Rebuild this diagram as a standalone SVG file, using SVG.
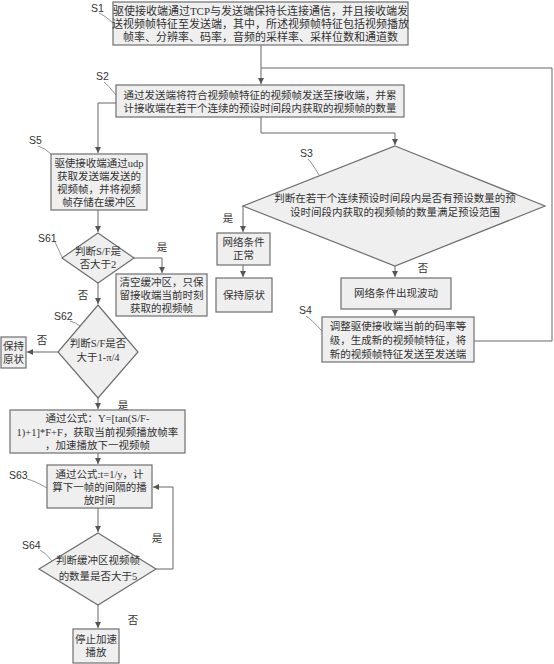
<svg xmlns="http://www.w3.org/2000/svg" width="554" height="664" viewBox="0 0 554 664">
<defs>
<marker id="ah" markerUnits="userSpaceOnUse" markerWidth="8" markerHeight="8" refX="6" refY="3" orient="auto">
<path d="M0,0 L6,3 L0,6 z" fill="#555"/>
</marker>
<style>
.box{fill:#efefef;stroke:#6e6e6e;stroke-width:1.2}
.t{font-family:"Liberation Serif","Noto Sans CJK SC",serif;font-size:10.5px;fill:#333;text-anchor:middle}
.lbl{font-family:"Liberation Sans",sans-serif;font-size:10.5px;fill:#333}
.c{fill:none;stroke:#666;stroke-width:1}
.a{marker-end:url(#ah)}
.ld{fill:none;stroke:#777;stroke-width:0.8}
</style>
</defs>
<rect width="554" height="664" fill="#fff"/>

<g id="connectors">
<path class="c a" d="M261,45 V84"/>
<path class="c" d="M474,341 H552 V68 H261"/>
<path class="c a" d="M261,117 V133 H395 V145"/>
<path class="c a" d="M116,103 H98 V153"/>
<path class="c a" d="M243,206 V232"/>
<path class="c a" d="M243,265 V277"/>
<path class="c a" d="M395,266 V277"/>
<path class="c a" d="M395,309 V316"/>
<path class="c a" d="M98,210 V232"/>
<path class="c a" d="M134,258 H162 V273"/>
<path class="c a" d="M98,283 V304"/>
<path class="c a" d="M58,352 H27"/>
<path class="c a" d="M98,398 V409"/>
<path class="c a" d="M98,453 V464"/>
<path class="c a" d="M98,508 V532"/>
<path class="c a" d="M156,569 H173 V487 H153"/>
<path class="c a" d="M98,605 V628"/>
<text class="t" x="228" y="222">是</text>
<text class="t" x="423" y="272">否</text>
<text class="t" x="162" y="251">是</text>
<text class="t" x="83" y="299">否</text>
<text class="t" x="42" y="344">否</text>
<text class="t" x="123" y="409">是</text>
<text class="t" x="157" y="542">是</text>
<text class="t" x="133" y="624">否</text>
</g>

<g id="labels">
<text class="lbl" x="91" y="12">S1</text>
<path class="ld" d="M99,13 Q104,15 113,23"/>
<text class="lbl" x="96" y="80">S2</text>
<path class="ld" d="M104,82 Q108,85 116,95"/>
<text class="lbl" x="300" y="157">S3</text>
<path class="ld" d="M308,159 Q312,163 319,175"/>
<text class="lbl" x="299" y="314">S4</text>
<path class="ld" d="M306,316 Q311,319 322,331"/>
<text class="lbl" x="29" y="144">S5</text>
<path class="ld" d="M38,146 Q45,148 51,154"/>
<text class="lbl" x="38" y="242">S61</text>
<path class="ld" d="M55,242 Q58,248 62,257"/>
<text class="lbl" x="54" y="320">S62</text>
<path class="ld" d="M70,321 Q75,322 80,326"/>
<text class="lbl" x="9" y="479">S63</text>
<path class="ld" d="M27,479 Q35,481 47,488"/>
<text class="lbl" x="22" y="549">S64</text>
<path class="ld" d="M40,550 Q46,553 52,561"/>
</g>

<g id="S1">
<rect class="box" x="113" y="2" width="295" height="43"/>
<text class="t" x="260.5" y="15" style="font-size:11px">驱使接收端通过TCP与发送端保持长连接通信，并且接收端发</text>
<text class="t" x="260.5" y="28" style="font-size:11px">送视频帧特征至发送端，其中，所述视频帧特征包括视频播放</text>
<text class="t" x="260.5" y="41" style="font-size:11px">帧率、分辨率、码率，音频的采样率、采样位数和通道数</text>
</g>

<g id="S2">
<rect class="box" x="116" y="85" width="288" height="32"/>
<text class="t" x="260" y="98.5">通过发送端将符合视频帧特征的视频帧发送至接收端，并累</text>
<text class="t" x="260" y="112">计接收端在若干个连续的预设时间段内获取的视频帧的数量</text>
</g>

<g id="S3">
<polygon class="box" points="395,146 545,206 395,266 243,206"/>
<text class="t" x="395" y="202">判断在若干个连续预设时间段内是否有预设数量的预</text>
<text class="t" x="395" y="216">设时间段内获取的视频帧的数量满足预设范围</text>
</g>

<g id="normal">
<rect class="box" x="217" y="233" width="53" height="32"/>
<text class="t" x="243.5" y="246">网络条件</text>
<text class="t" x="243.5" y="259">正常</text>
</g>

<g id="keep1">
<rect class="box" x="216" y="278" width="56" height="34"/>
<text class="t" x="244" y="299">保持原状</text>
</g>

<g id="fluct">
<rect class="box" x="341" y="278" width="110" height="31"/>
<text class="t" x="396" y="297">网络条件出现波动</text>
</g>

<g id="S4">
<rect class="box" x="322" y="317" width="152" height="45"/>
<text class="t" x="398" y="330">调整驱使接收端当前的码率等</text>
<text class="t" x="398" y="344">级，生成新的视频帧特征，将</text>
<text class="t" x="398" y="358">新的视频帧特征发送至发送端</text>
</g>

<g id="S5">
<rect class="box" x="51" y="154" width="96" height="56"/>
<text class="t" x="99" y="167">驱使接收端通过udp</text>
<text class="t" x="99" y="180">获取发送端发送的</text>
<text class="t" x="99" y="193">视频帧，并将视频</text>
<text class="t" x="99" y="206">帧存储在缓冲区</text>
</g>

<g id="S61">
<polygon class="box" points="98,233 134,258 98,283 62,258"/>
<text class="t" x="98" y="255">判断S/F是</text>
<text class="t" x="98" y="268">否大于2</text>
</g>

<g id="clear">
<rect class="box" x="116" y="274" width="91" height="42"/>
<text class="t" x="161.5" y="286">清空缓冲区，只保</text>
<text class="t" x="161.5" y="299">留接收端当前时刻</text>
<text class="t" x="161.5" y="312">获取的视频帧</text>
</g>

<g id="S62">
<polygon class="box" points="98,305 138,352 98,398 58,352"/>
<text class="t" x="98" y="347">判断S/F是否</text>
<text class="t" x="98" y="361">大于1-π/4</text>
</g>

<g id="keep2">
<rect class="box" x="1" y="337" width="25" height="31"/>
<text class="t" x="13.5" y="350">保持</text>
<text class="t" x="13.5" y="363">原状</text>
</g>

<g id="formula">
<rect class="box" x="10" y="410" width="175" height="43"/>
<text class="t" x="97.5" y="422">通过公式：Y=[tan(S/F-</text>
<text class="t" x="97.5" y="436">1)+1]*F+F，获取当前视频播放帧率</text>
<text class="t" x="97.5" y="449">，加速播放下一视频帧</text>
</g>

<g id="S63">
<rect class="box" x="47" y="465" width="105" height="43"/>
<text class="t" x="99.5" y="478">通过公式:t=1/y，计</text>
<text class="t" x="99.5" y="491">算下一帧的间隔的播</text>
<text class="t" x="99.5" y="504">放时间</text>
</g>

<g id="S64">
<polygon class="box" points="98,533 156,569 98,605 39,569"/>
<text class="t" x="98" y="564">判断缓冲区视频帧</text>
<text class="t" x="98" y="580">的数量是否大于5</text>
</g>

<g id="stop">
<rect class="box" x="73" y="629" width="46" height="34"/>
<text class="t" x="96" y="643">停止加速</text>
<text class="t" x="96" y="656">播放</text>
</g>
</svg>
